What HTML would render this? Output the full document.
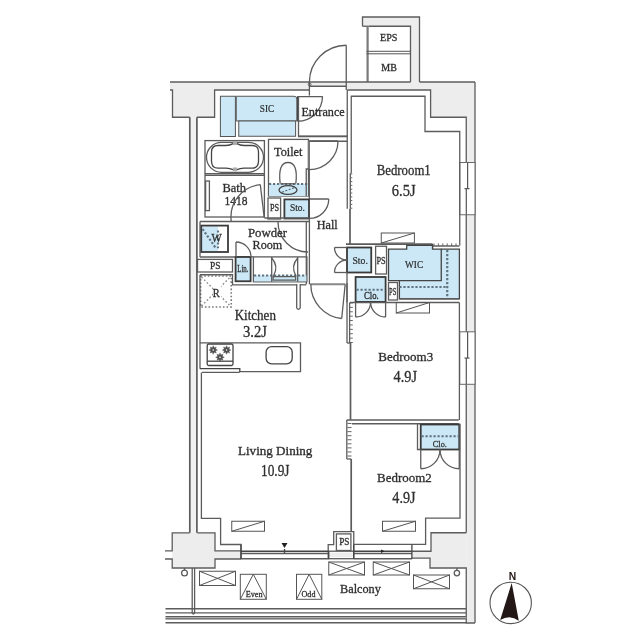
<!DOCTYPE html>
<html><head><meta charset="utf-8"><style>
html,body{margin:0;padding:0;background:#fff;}
svg{display:block;will-change:transform}

.g{fill:#ededed;stroke:none}
.l{fill:none;stroke:#5c5c5c;stroke-width:1.3}
.l15{fill:none;stroke:#5c5c5c;stroke-width:1.7}
.l2{fill:none;stroke:#555;stroke-width:1}
.d{fill:none;stroke:#444;stroke-width:1.3}
.tk{fill:none;stroke:#666;stroke-width:1}
.b{fill:#cce8f6;stroke:#555;stroke-width:1}
.b0{fill:#cce8f6;stroke:none}
.bd{fill:#cce8f6;stroke:#3a3a3a;stroke-width:1.8}
.bd2{fill:#cce8f6;stroke:#444;stroke-width:1.3}
.dash{fill:none;stroke:#5f7380;stroke-width:2.2;stroke-dasharray:2.2 1.8}
.dot{fill:none;stroke:#777;stroke-width:1.6;stroke-dasharray:1.6 2}
.t{fill:#2e2e2e;font-family:"Liberation Serif",serif;stroke:#2e2e2e;stroke-width:0.3}
.tb{fill:#2a2a2a;font-family:"Liberation Serif",serif;stroke:#2a2a2a;stroke-width:0.2}
.gc{fill:#aaa;stroke:none}
.brn{fill:#505050;stroke:#505050;stroke-width:0.4}
.wf{fill:#fff;stroke:none}
.dotx{fill:none;stroke:#888;stroke-width:1.4;stroke-dasharray:1.6 2.2}
.thr{fill:none;stroke:#888;stroke-width:2}
.dash2{fill:none;stroke:#4a5a66;stroke-width:1.1;stroke-dasharray:2 1.6}
.wc{fill:#fff;stroke:#444;stroke-width:0.9}
.sash{fill:none;stroke:#555;stroke-width:1.2}
.g2{fill:#f1f1f1;stroke:none}
.g3{fill:#c8c8c8;stroke:none}
.trk{fill:none;stroke:#7a7a7a;stroke-width:2.2}
.thk{fill:none;stroke:#777;stroke-width:2.2}
.wbox{fill:#fff;stroke:none}
.bdn{fill:none;stroke:#3a3a3a;stroke-width:1.8}
.win{fill:#fff;stroke:#6a6a6a;stroke-width:1}
.fillk{fill:#222;stroke:none}
.fillk2{fill:#231815;stroke:none}
.cmp{fill:none;stroke:#555;stroke-width:1.1}

</style></head><body>
<svg width="640" height="640" viewBox="0 0 640 640">
<rect width="640" height="640" fill="#fff"/>
<polygon points="170,82 309.4,82 309.4,90 214.6,90 214.6,117.25 172.5,117.25 172.5,90 170,90" class="g"/>
<line x1="170" y1="82" x2="309.4" y2="82" class="l"/>
<polyline points="170,90 172.5,90 172.5,117.25 189.75,117.25" class="l"/>
<polyline points="196.9,117.25 214.6,117.25 214.6,90 309.4,90" class="l"/>
<polygon points="362.5,17 419.5,17 419.5,82 410.5,82 410.5,26.25 362.5,26.25" class="g"/>
<polyline points="362.5,26.25 362.5,17 419.5,17 419.5,82" class="l"/>
<polyline points="368.5,26.25 410.5,26.25 410.5,82" class="l"/>
<line x1="362.5" y1="26.25" x2="368.5" y2="26.25" class="l"/>
<line x1="367.6" y1="26.5" x2="367.6" y2="82" class="trk"/>
<line x1="366.5" y1="51.3" x2="410.5" y2="51.3" class="l2"/>
<line x1="366.5" y1="53.8" x2="410.5" y2="53.8" class="l2"/>
<text x="380.07" y="41.25" font-size="11.07" textLength="17.36" lengthAdjust="spacingAndGlyphs" class="t">EPS</text>
<text x="381.35" y="70.5" font-size="9.92" textLength="15.55" lengthAdjust="spacingAndGlyphs" class="t">MB</text>
<polygon points="346.25,82 475,82 475,623 466.25,623 466.25,117.25 430.6,117.25 430.6,90 346.25,90" class="g"/>
<line x1="346.25" y1="82" x2="410.5" y2="82" class="l"/>
<line x1="419.5" y1="82" x2="475" y2="82" class="l"/>
<line x1="475" y1="82" x2="475" y2="623" class="l"/>
<polyline points="347.25,90 430.6,90 430.6,117.25 466.25,117.25 466.25,532.75" class="l"/>
<rect x="309.4" y="83" width="36.85" height="2.3" rx="0" class="g"/>
<line x1="309.4" y1="86.25" x2="346.25" y2="86.25" class="l"/>
<line x1="309.4" y1="82" x2="346.25" y2="82" class="l"/>
<circle cx="309.6" cy="84.4" r="1.4" class="wc"/>
<line x1="309.4" y1="82" x2="309.4" y2="95.6" class="l"/>
<line x1="346.25" y1="82" x2="346.25" y2="90" class="l"/>
<line x1="346.25" y1="45.25" x2="346.25" y2="82" class="l"/>
<path d="M346.25,45.25 A36.9,36.9 0 0 0 309.4,82" class="l"/>
<polygon points="172.2,532.8 215,532.8 215,550.8 241,550.8 241,559 215,559 215,568 172.2,568" class="g"/>
<polyline points="189.7,532.8 172.2,532.8 172.2,550.8 165,550.8" class="l"/>
<polyline points="165,559 172.2,559 172.2,568 215,568 215,559 241,559" class="l"/>
<polyline points="197.2,532.8 215,532.8 215,550.8 241,550.8" class="l"/>
<rect x="328.8" y="552.6" width="24.4" height="4.6" rx="0" class="g"/>
<line x1="328.2" y1="551.2" x2="353.75" y2="551.2" class="l"/>
<line x1="328.2" y1="558.7" x2="353.75" y2="558.7" class="l"/>
<polygon points="431,532.75 466.25,532.75 466.25,568 430,568 430,558.1 411.9,558.1 411.9,551.25 431,551.25" class="g"/>
<polyline points="466.25,532.75 431,532.75 431,551.25 411.9,551.25" class="l"/>
<polyline points="411.9,558.1 430,558.1 430,568 466.25,568 466.25,623 475,623" class="l"/>
<rect x="459.75" y="162.5" width="15.25" height="52.25" rx="0" class="win"/>
<line x1="467.6" y1="162.5" x2="467.6" y2="188.625" class="sash"/>
<line x1="466.3" y1="188.625" x2="466.3" y2="214.75" class="sash"/>
<line x1="464.5" y1="188.625" x2="469.5" y2="188.625" class="sash"/>
<rect x="459.75" y="331.8" width="15.25" height="52.5" rx="0" class="win"/>
<line x1="467.6" y1="331.8" x2="467.6" y2="358.05" class="sash"/>
<line x1="466.3" y1="358.05" x2="466.3" y2="384.3" class="sash"/>
<line x1="464.5" y1="358.05" x2="469.5" y2="358.05" class="sash"/>
<rect x="190" y="117" width="7" height="416" rx="0" class="g2"/>
<line x1="189.8" y1="117.25" x2="189.8" y2="532.8" class="l15"/>
<line x1="196.9" y1="117.25" x2="196.9" y2="532.8" class="l15"/>
<polyline points="351.25,173.2 351.25,96.25 425,96.25 425,131.5 459.75,131.5 459.75,245.6" class="l"/>
<line x1="347.25" y1="90" x2="347.25" y2="208.8" class="l"/>
<line x1="350" y1="208.8" x2="350" y2="244.4" class="l15"/>
<polyline points="201.4,372.5 201.4,518.4 220.6,518.4 220.6,544.5 241,544.5 241,559" class="l"/>
<rect x="220.4" y="96.25" width="15.0" height="40.25" rx="0" class="b"/>
<path d="M236.25,96.25 H294 Q296.9,96.25 296.9,99 V121 H236.25 Z" class="b"/>
<rect x="238.75" y="121" width="56.85" height="15.25" rx="0" class="b"/>
<text x="259.8" y="111.7" font-size="10.15" textLength="14.31" lengthAdjust="spacingAndGlyphs" class="tb">SIC</text>
<line x1="297.5" y1="96.25" x2="297.5" y2="121" class="d"/>
<path d="M297.5,121.25 A25,25 0 0 0 322.5,96.25" class="l"/>
<polyline points="322.5,96.6 298.5,96.6 298.5,136.5 347.25,136.5" class="l"/>
<text x="301.4" y="116.3" font-size="13.36" textLength="43.4" lengthAdjust="spacingAndGlyphs" class="t">Entrance</text>
<rect x="205" y="140.6" width="59.4" height="76.4" rx="0" class="l"/>
<rect x="206.5" y="142.3" width="57.0" height="30.0" rx="15" class="l"/>
<path d="M233,143.6 Q230,145.4 226,145.5 H218 Q211.5,145.5 211.5,152 V161 Q211.5,168.2 218,168.2 H226 Q230,168.3 233,169.6 M237,169.6 Q240,168.3 244,168.2 H252 Q258.5,168.2 258.5,161 V152 Q258.5,145.5 252,145.5 H244 Q240,145.4 237,143.6" class="d"/>
<rect x="233" y="141.2" width="4" height="3.8" rx="0" class="gc"/>
<rect x="233" y="167.5" width="4" height="3.7" rx="0" class="gc"/>
<line x1="205" y1="173.75" x2="264.4" y2="173.75" class="l"/>
<line x1="205" y1="175.3" x2="264.4" y2="175.3" class="l"/>
<rect x="205.6" y="181" width="3.8" height="29.6" rx="0" class="l"/>
<text x="222.5" y="192" font-size="13.36" textLength="23.5" lengthAdjust="spacingAndGlyphs" class="t">Bath</text>
<text x="224.5" y="205.3" font-size="13.41" textLength="23.0" lengthAdjust="spacingAndGlyphs" class="t">1418</text>
<line x1="264.2" y1="217.5" x2="260.3" y2="184.7" class="l"/>
<path d="M260.3,184.7 A32.5,32.5 0 0 0 231.2,221" class="l"/>
<rect x="268.5" y="139.4" width="40.0" height="56.6" rx="0" class="l"/>
<path d="M269,184 H308 V196 H269 Z" class="b0"/>
<line x1="269" y1="184" x2="308" y2="184" class="dash"/>
<path d="M280.2,183.5 C278.5,170 281,162.5 288,162.5 C295,162.5 297.5,170 295.8,183.5" class="l"/>
<line x1="280.5" y1="183.8" x2="295.5" y2="183.8" class="l"/>
<ellipse cx="288" cy="190" rx="9" ry="4.3" class="d"/>
<line x1="282" y1="192.3" x2="294" y2="187.8" class="dash2"/>
<text x="274.01" y="155.6" font-size="12.9" textLength="28.47" lengthAdjust="spacingAndGlyphs" class="t">Toilet</text>
<line x1="308.9" y1="140.6" x2="308.9" y2="169" class="thk"/>
<line x1="309.4" y1="141" x2="338" y2="141" class="d"/>
<path d="M338,141 A28.6,28.6 0 0 1 309.4,169.6" class="l"/>
<line x1="298.5" y1="136.25" x2="347.25" y2="136.25" class="l"/>
<line x1="309.4" y1="141.25" x2="347.25" y2="141.25" class="l"/>
<polyline points="306.25,196 306.25,169 309.4,169" class="l"/>
<line x1="309.3" y1="169" x2="309.3" y2="199.4" class="l"/>
<rect x="268" y="198" width="12.6" height="21" rx="0" class="l"/>
<text x="269.99" y="211.2" font-size="10.31" textLength="9.12" lengthAdjust="spacingAndGlyphs" class="t">PS</text>
<rect x="284.4" y="199.4" width="24.6" height="19.1" rx="0" class="bd"/>
<text x="289.9" y="211.2" font-size="9.85" textLength="14.99" lengthAdjust="spacingAndGlyphs" class="tb">Sto.</text>
<line x1="309.4" y1="199" x2="328.75" y2="199" class="d"/>
<path d="M328.75,199 A19.4,19.4 0 0 1 309.4,218.4" class="l"/>
<line x1="264.4" y1="218" x2="309" y2="218" class="l"/>
<line x1="200" y1="221.5" x2="309" y2="221.5" class="l"/>
<line x1="200" y1="221.5" x2="200" y2="257" class="l"/>
<line x1="306.3" y1="222" x2="306.3" y2="284.3" class="l"/>
<line x1="309.4" y1="218.5" x2="309.4" y2="284.3" class="l"/>
<path d="M278,222 A30,30 0 0 0 308,252" class="l"/>
<text x="247.9" y="236.8" font-size="13.21" textLength="39.09" lengthAdjust="spacingAndGlyphs" class="t">Powder</text>
<text x="252.62" y="248.6" font-size="12.75" textLength="29.66" lengthAdjust="spacingAndGlyphs" class="t">Room</text>
<rect x="201.25" y="225.6" width="26.75" height="26.4" rx="0" class="wbox"/>
<rect x="202" y="226.5" width="16" height="25.0" rx="0" class="b0"/>
<rect x="201.25" y="225.6" width="26.75" height="26.4" rx="0" class="bdn"/>
<line x1="202.6" y1="229" x2="216.2" y2="248.7" class="dash"/>
<line x1="218" y1="230.4" x2="218" y2="248.2" class="dash"/>
<text x="211.53" y="242.1" font-size="12.44" textLength="10.25" lengthAdjust="spacingAndGlyphs" class="t">W</text>
<line x1="200" y1="257" x2="250" y2="257" class="l"/>
<rect x="197.5" y="259.4" width="35.0" height="12.6" rx="0" class="l"/>
<text x="210.09" y="268.9" font-size="10.46" textLength="10.43" lengthAdjust="spacingAndGlyphs" class="t">PS</text>
<rect x="235.6" y="257" width="15.0" height="24.25" rx="0" class="bd"/>
<text x="237.29" y="272.1" font-size="10.31" textLength="11.12" lengthAdjust="spacingAndGlyphs" class="t">Lin.</text>
<line x1="236" y1="242" x2="236" y2="257" class="l"/>
<path d="M236,242 A15,15 0 0 1 251,257" class="l"/>
<rect x="253.4" y="256.9" width="53.5" height="24.9" rx="0" class="l"/>
<line x1="250.6" y1="256.9" x2="253.4" y2="256.9" class="l"/>
<rect x="254" y="275.4" width="52.4" height="6.0" rx="0" class="b0"/>
<line x1="254" y1="275.5" x2="306.4" y2="275.5" class="dash"/>
<rect x="273.1" y="276.6" width="22.5" height="3.5" rx="0" class="l"/>
<line x1="271.7" y1="256.9" x2="271.7" y2="281.8" class="l"/>
<line x1="297.7" y1="256.9" x2="297.7" y2="281.8" class="l"/>
<path d="M271.7,258 Q279,266 273.5,276" class="l"/>
<path d="M297.7,258 Q290.4,266 295.9,276" class="l"/>
<polyline points="200,274.75 232.5,274.75 232.5,284.8 296.7,284.8" class="l"/>
<line x1="300.2" y1="284.8" x2="306.3" y2="284.8" class="l"/>
<path d="M296.7,284 V308 Q298.45,310.5 300.2,308 V284" class="l"/>
<line x1="310" y1="284.3" x2="345.2" y2="284.3" class="thr"/>
<line x1="345.2" y1="284.3" x2="341.7" y2="318.5" class="l"/>
<path d="M341.7,318.5 A34.4,34.4 0 0 1 310.8,284.3" class="l"/>
<rect x="200.6" y="276" width="30.65" height="31" rx="0" class="dot"/>
<line x1="201.5" y1="277" x2="230.3" y2="306" class="dotx"/>
<line x1="201.5" y1="306" x2="230.3" y2="277" class="dotx"/>
<rect x="213" y="285" width="8" height="15" fill="#fff"/>
<text x="212.76" y="296.9" font-size="13.05" textLength="6.98" lengthAdjust="spacingAndGlyphs" class="t">R</text>
<line x1="200" y1="274.75" x2="200" y2="368.6" class="l"/>
<text x="234.69" y="319.7" font-size="13.66" textLength="41.22" lengthAdjust="spacingAndGlyphs" class="t">Kitchen</text>
<text x="242.97" y="337.4" font-size="16.4" textLength="24.06" lengthAdjust="spacingAndGlyphs" class="t">3.2J</text>
<polyline points="239.8,371.6 300.5,371.6 300.5,342.8 199.8,342.8" class="l"/>
<rect x="207.2" y="344" width="25.8" height="21.5" rx="1.5" class="d"/>
<line x1="207.2" y1="361.2" x2="233" y2="361.2" class="d"/>
<polygon points="217.5,350.0 215.51,350.96 216.24,353.04 214.16,352.31 213.2,354.3 212.24,352.31 210.16,353.04 210.89,350.96 208.9,350.0 210.89,349.04 210.16,346.96 212.24,347.69 213.2,345.7 214.16,347.69 216.24,346.96 215.51,349.04" class="brn"/>
<circle cx="213.2" cy="350" r="0.8" class="wf"/>
<polygon points="230.9,350.0 228.91,350.96 229.64,353.04 227.56,352.31 226.6,354.3 225.64,352.31 223.56,353.04 224.29,350.96 222.3,350.0 224.29,349.04 223.56,346.96 225.64,347.69 226.6,345.7 227.56,347.69 229.64,346.96 228.91,349.04" class="brn"/>
<circle cx="226.6" cy="350" r="0.8" class="wf"/>
<polygon points="224.3,357.2 222.31,358.16 223.04,360.24 220.96,359.51 220.0,361.5 219.04,359.51 216.96,360.24 217.69,358.16 215.7,357.2 217.69,356.24 216.96,354.16 219.04,354.89 220.0,352.9 220.96,354.89 223.04,354.16 222.31,356.24" class="brn"/>
<circle cx="220" cy="357.2" r="0.8" class="wf"/>
<rect x="266.1" y="346.6" width="26.1" height="17.2" rx="5.5" class="d"/>
<polyline points="199.8,368.6 239.8,368.6 239.8,372" class="d"/>
<line x1="202" y1="372.4" x2="239.8" y2="372.4" class="l"/>
<text x="316.71" y="229" font-size="12.9" textLength="21.02" lengthAdjust="spacingAndGlyphs" class="t">Hall</text>
<line x1="350.3" y1="173.2" x2="350.3" y2="208.8" class="l"/>
<line x1="350.3" y1="174.0" x2="352.3" y2="174.0" class="tk"/>
<line x1="350.3" y1="177.8" x2="352.3" y2="177.8" class="tk"/>
<line x1="350.3" y1="181.6" x2="352.3" y2="181.6" class="tk"/>
<line x1="350.3" y1="185.4" x2="352.3" y2="185.4" class="tk"/>
<line x1="350.3" y1="189.2" x2="352.3" y2="189.2" class="tk"/>
<line x1="350.3" y1="193.0" x2="352.3" y2="193.0" class="tk"/>
<line x1="350.3" y1="196.79999999999998" x2="352.3" y2="196.79999999999998" class="tk"/>
<line x1="350.3" y1="200.6" x2="352.3" y2="200.6" class="tk"/>
<line x1="350.3" y1="204.39999999999998" x2="352.3" y2="204.39999999999998" class="tk"/>
<line x1="350.3" y1="208.2" x2="352.3" y2="208.2" class="tk"/>
<text x="376.79" y="174.6" font-size="13.82" textLength="53.93" lengthAdjust="spacingAndGlyphs" class="t">Bedroom1</text>
<text x="391.77" y="195.6" font-size="16.4" textLength="23.76" lengthAdjust="spacingAndGlyphs" class="t">6.5J</text>
<rect x="381.25" y="233" width="33.15" height="10" rx="0" class="l2"/>
<line x1="381.25" y1="243" x2="414.4" y2="233" class="l2"/>
<line x1="346" y1="244.2" x2="432.5" y2="244.2" class="l15"/>
<line x1="432.5" y1="244" x2="432.5" y2="249.1" class="d"/>
<line x1="432.5" y1="246" x2="459.4" y2="246" class="d"/>
<line x1="434.0" y1="246" x2="434.0" y2="243.4" class="tk"/>
<line x1="438.4" y1="246" x2="438.4" y2="243.4" class="tk"/>
<line x1="442.8" y1="246" x2="442.8" y2="243.4" class="tk"/>
<line x1="447.2" y1="246" x2="447.2" y2="243.4" class="tk"/>
<line x1="451.6" y1="246" x2="451.6" y2="243.4" class="tk"/>
<line x1="456.0" y1="246" x2="456.0" y2="243.4" class="tk"/>
<rect x="347" y="247.5" width="24.25" height="25.0" rx="0" class="bd"/>
<text x="352.47" y="263.7" font-size="11.07" textLength="15.36" lengthAdjust="spacingAndGlyphs" class="tb">Sto.</text>
<line x1="334.5" y1="247.5" x2="347" y2="247.5" class="l"/>
<path d="M334.5,247.5 A12.5,12.5 0 0 0 347,260" class="l"/>
<line x1="334.5" y1="272.5" x2="347" y2="272.5" class="l"/>
<path d="M334.5,272.5 A12.5,12.5 0 0 1 347,260" class="l"/>
<rect x="375.6" y="246.25" width="10.9" height="27.75" rx="0" class="l"/>
<text x="376.39" y="263.7" font-size="10.31" textLength="9.22" lengthAdjust="spacingAndGlyphs" class="t">PS</text>
<path d="M388.5,249.1 H406.7 V245.4 H432.5 V249.1 H459.4 V298.75 H399.4 V280.6 H388.5 Z" class="bd2"/>
<polyline points="441.25,248.75 441.25,280.6 399.4,280.6" class="d"/>
<line x1="447.25" y1="250" x2="447.25" y2="298" class="dash"/>
<line x1="399.4" y1="287" x2="447.25" y2="287" class="dash"/>
<text x="404.99" y="267.7" font-size="10.46" textLength="18.13" lengthAdjust="spacingAndGlyphs" class="tb">WIC</text>
<rect x="388.5" y="282.5" width="9.0" height="17.5" rx="0" class="l"/>
<text x="389.11" y="294.6" font-size="9.69" textLength="7.28" lengthAdjust="spacingAndGlyphs" class="t">PS</text>
<rect x="355.6" y="277" width="30.0" height="24.9" rx="0" class="bd"/>
<line x1="356.5" y1="289.75" x2="384.6" y2="289.75" class="dash"/>
<text x="364.01" y="299.3" font-size="9.69" textLength="14.78" lengthAdjust="spacingAndGlyphs" class="t">Clo.</text>
<line x1="355.6" y1="302" x2="355.6" y2="317" class="l"/>
<path d="M355.6,317 A15,15 0 0 0 370.6,302" class="l"/>
<line x1="385.6" y1="302" x2="385.6" y2="317" class="l"/>
<path d="M385.6,317 A15,15 0 0 1 370.6,302" class="l"/>
<line x1="347" y1="272.5" x2="347" y2="302.5" class="l"/>
<line x1="350" y1="302.5" x2="459.4" y2="302.5" class="l"/>
<line x1="399.4" y1="298.75" x2="459.4" y2="298.75" class="l"/>
<rect x="396.25" y="302.5" width="33.25" height="10.5" rx="0" class="l2"/>
<line x1="396.25" y1="313" x2="429.5" y2="302.5" class="l2"/>
<line x1="459.4" y1="302.5" x2="459.4" y2="420" class="l"/>
<line x1="350" y1="303.0" x2="352.8" y2="303.0" class="tk"/>
<line x1="350" y1="307.3888888888889" x2="352.8" y2="307.3888888888889" class="tk"/>
<line x1="350" y1="311.77777777777777" x2="352.8" y2="311.77777777777777" class="tk"/>
<line x1="350" y1="316.1666666666667" x2="352.8" y2="316.1666666666667" class="tk"/>
<line x1="350" y1="320.55555555555554" x2="352.8" y2="320.55555555555554" class="tk"/>
<line x1="350" y1="324.94444444444446" x2="352.8" y2="324.94444444444446" class="tk"/>
<line x1="350" y1="329.3333333333333" x2="352.8" y2="329.3333333333333" class="tk"/>
<line x1="350" y1="333.72222222222223" x2="352.8" y2="333.72222222222223" class="tk"/>
<line x1="350" y1="338.1111111111111" x2="352.8" y2="338.1111111111111" class="tk"/>
<line x1="350" y1="342.5" x2="352.8" y2="342.5" class="tk"/>
<line x1="347" y1="283" x2="347" y2="343" class="l"/>
<line x1="349.6" y1="302.5" x2="349.6" y2="343" class="l"/>
<line x1="347" y1="343" x2="350.5" y2="343" class="l"/>
<line x1="350.5" y1="343" x2="350.5" y2="420" class="l15"/>
<text x="378.21" y="361.4" font-size="12.9" textLength="54.97" lengthAdjust="spacingAndGlyphs" class="t">Bedroom3</text>
<text x="393.57" y="381.6" font-size="16.4" textLength="23.46" lengthAdjust="spacingAndGlyphs" class="t">4.9J</text>
<line x1="346.8" y1="420" x2="458.75" y2="420" class="l"/>
<line x1="352" y1="423.75" x2="458.75" y2="423.75" class="l"/>
<line x1="346.8" y1="420" x2="346.8" y2="459" class="l"/>
<line x1="346.8" y1="459" x2="351.2" y2="459" class="l"/>
<line x1="347.5" y1="423.5" x2="351.5" y2="423.5" class="tk"/>
<line x1="347.5" y1="427.5625" x2="351.5" y2="427.5625" class="tk"/>
<line x1="347.5" y1="431.625" x2="351.5" y2="431.625" class="tk"/>
<line x1="347.5" y1="435.6875" x2="351.5" y2="435.6875" class="tk"/>
<line x1="347.5" y1="439.75" x2="351.5" y2="439.75" class="tk"/>
<line x1="347.5" y1="443.8125" x2="351.5" y2="443.8125" class="tk"/>
<line x1="347.5" y1="447.875" x2="351.5" y2="447.875" class="tk"/>
<line x1="347.5" y1="451.9375" x2="351.5" y2="451.9375" class="tk"/>
<line x1="347.5" y1="456.0" x2="351.5" y2="456.0" class="tk"/>
<line x1="351.2" y1="459" x2="351.2" y2="531.3" class="l15"/>
<text x="377.09" y="482.3" font-size="13.51" textLength="54.71" lengthAdjust="spacingAndGlyphs" class="t">Bedroom2</text>
<text x="392.37" y="502.6" font-size="16.4" textLength="23.26" lengthAdjust="spacingAndGlyphs" class="t">4.9J</text>
<rect x="420.75" y="424.5" width="38.5" height="25.0" rx="0" class="bd"/>
<line x1="421.5" y1="436.25" x2="458.5" y2="436.25" class="dash"/>
<text x="432.82" y="447.1" font-size="9.24" textLength="14.05" lengthAdjust="spacingAndGlyphs" class="t">Clo.</text>
<polyline points="417.5,423.75 417.5,449.5 420.75,449.5" class="l"/>
<line x1="420.75" y1="449.5" x2="420.75" y2="468.75" class="l"/>
<path d="M420.75,468.75 A19.25,19.25 0 0 0 440,449.5" class="l"/>
<line x1="459.25" y1="449.5" x2="459.25" y2="468.75" class="l"/>
<path d="M459.25,468.75 A19.25,19.25 0 0 1 440,449.5" class="l"/>
<rect x="382.5" y="521.25" width="33.0" height="10.0" rx="0" class="l2"/>
<line x1="382.5" y1="531.25" x2="415.5" y2="521.25" class="l2"/>
<polyline points="460,423.75 460,518.1 425.6,518.1 425.6,544.4 353.75,544.4" class="l"/>
<text x="238.03" y="455.1" font-size="12.44" textLength="74.35" lengthAdjust="spacingAndGlyphs" class="t">Living Dining</text>
<text x="260.97" y="475.9" font-size="16.4" textLength="28.56" lengthAdjust="spacingAndGlyphs" class="t">10.9J</text>
<rect x="231.75" y="521.25" width="32.75" height="10.0" rx="0" class="l2"/>
<line x1="231.75" y1="531.25" x2="264.5" y2="521.25" class="l2"/>
<path d="M281.5,543 H287.5 L284.5,548 Z" class="fillk"/>
<rect x="336.4" y="533.9" width="14.5" height="16.6" rx="0" class="l"/>
<text x="339.19" y="545.4" font-size="10.31" textLength="10.22" lengthAdjust="spacingAndGlyphs" class="t">PS</text>
<polyline points="328.2,558.7 328.2,544.6 333.7,544.6 333.7,531.6 353.75,531.6 353.75,558.7" class="l"/>
<line x1="241" y1="551.25" x2="328.75" y2="551.25" class="d"/>
<line x1="241" y1="553.5" x2="328.75" y2="553.5" class="l"/>
<line x1="241" y1="558.75" x2="328.75" y2="558.75" class="l"/>
<line x1="353.75" y1="551.25" x2="411.9" y2="551.25" class="d"/>
<line x1="353.75" y1="553.5" x2="411.9" y2="553.5" class="l"/>
<line x1="353.75" y1="558.75" x2="411.9" y2="558.75" class="l"/>
<line x1="241" y1="544.5" x2="241" y2="559" class="d"/>
<line x1="353.75" y1="544.4" x2="353.75" y2="559" class="d"/>
<line x1="411.9" y1="544.4" x2="411.9" y2="559" class="d"/>
<line x1="328.75" y1="551" x2="328.75" y2="559" class="d"/>
<line x1="284.5" y1="549" x2="284.5" y2="553.5" class="d"/>
<path d="M381,549.5 L384.6,551.3 L381,553.1 Z" class="fillk"/>
<rect x="165.5" y="616.6" width="300.75" height="2.3" rx="0" class="g3"/>
<line x1="165.5" y1="608.75" x2="466.25" y2="608.75" class="l"/>
<line x1="165.5" y1="612.9" x2="466.25" y2="612.9" class="l"/>
<line x1="165.5" y1="616.6" x2="466.25" y2="616.6" class="l"/>
<line x1="165.5" y1="618.9" x2="466.25" y2="618.9" class="l"/>
<line x1="165.5" y1="622.75" x2="466.25" y2="622.75" class="l"/>
<path d="M192.2,568 V613 Q193.4,615 194.6,613 V568" class="l"/>
<circle cx="184.5" cy="573" r="2.9" class="l"/>
<circle cx="456.9" cy="573.1" r="2.7" class="l"/>
<line x1="184.5" y1="568" x2="184.5" y2="570.1" class="l"/>
<line x1="456.9" y1="568" x2="456.9" y2="570.4" class="l"/>
<rect x="199.5" y="571.25" width="36.0" height="14.25" rx="0" class="l2"/>
<line x1="199.5" y1="571.25" x2="235.5" y2="585.5" class="l2"/>
<line x1="199.5" y1="585.5" x2="235.5" y2="571.25" class="l2"/>
<rect x="328.75" y="562" width="35.75" height="13" rx="0" class="l2"/>
<line x1="328.75" y1="562" x2="364.5" y2="575" class="l2"/>
<line x1="328.75" y1="575" x2="364.5" y2="562" class="l2"/>
<rect x="373.25" y="562" width="36.25" height="13" rx="0" class="l2"/>
<line x1="373.25" y1="562" x2="409.5" y2="575" class="l2"/>
<line x1="373.25" y1="575" x2="409.5" y2="562" class="l2"/>
<rect x="413.5" y="575" width="36.0" height="13.75" rx="0" class="l2"/>
<line x1="413.5" y1="575" x2="449.5" y2="588.75" class="l2"/>
<line x1="413.5" y1="588.75" x2="449.5" y2="575" class="l2"/>
<rect x="240.3" y="574.3" width="26.0" height="25.0" rx="0" class="l2"/>
<polyline points="240.3,599.3 253.3,574.3 266.3,599.3" class="l2"/>
<rect x="296.5" y="574.3" width="25.3" height="25.0" rx="0" class="l2"/>
<polyline points="296.5,599.3 309.15,574.3 321.8,599.3" class="l2"/>
<text x="245.72" y="597.1" font-size="9.24" textLength="16.85" lengthAdjust="spacingAndGlyphs" class="t">Even</text>
<text x="301.52" y="597.1" font-size="9.24" textLength="13.95" lengthAdjust="spacingAndGlyphs" class="t">Odd</text>
<text x="340.02" y="592.5" font-size="12.6" textLength="40.86" lengthAdjust="spacingAndGlyphs" class="t">Balcony</text>
<circle cx="510.7" cy="602.9" r="20.7" class="cmp"/>
<path d="M511.7,583 L518.8,620.7 Q510,614 500.2,619.9 Z" class="fillk2"/>
<text x="512.5" y="579.9" font-size="10.3" text-anchor="middle" font-family="Liberation Sans, sans-serif" font-weight="bold" fill="#231815">N</text>
</svg></body></html>
